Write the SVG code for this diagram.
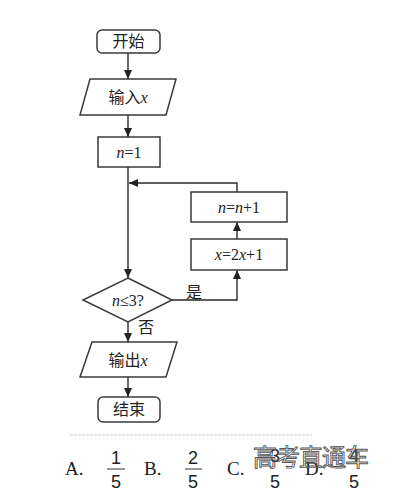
<svg xmlns="http://www.w3.org/2000/svg" width="400" height="500" viewBox="0 0 400 500">
<style>
.box{fill:#fff;stroke:#3a3a3a;stroke-width:1.5}
.ln{fill:none;stroke:#2a2a2a;stroke-width:1.4}
.cn{font-family:"Noto Sans CJK SC",sans-serif;font-size:16px;fill:#222}
.m{font-family:"Liberation Serif",serif;font-size:16px;fill:#222}
.i{font-style:italic}
.opt{font-family:"Liberation Serif",serif;font-size:19px;fill:#222}
.dg{font-family:"Liberation Sans",sans-serif;font-size:18px;fill:#222}
.wm{font-family:"Noto Sans CJK SC",sans-serif;font-size:24px;fill:none;stroke:#555;stroke-width:0.9}
</style>
<defs>
<marker id="ah" markerWidth="10" markerHeight="10" refX="9" refY="5" orient="auto" markerUnits="userSpaceOnUse">
<path d="M0,1 L9,5 L0,9 Z" fill="#222"/>
</marker>
</defs>
<rect width="400" height="500" fill="#fff"/>
<g id="connectors">
<line class="ln" x1="128" y1="53" x2="128" y2="79" marker-end="url(#ah)"/>
<line class="ln" x1="128" y1="115" x2="128" y2="137" marker-end="url(#ah)"/>
<line class="ln" x1="128" y1="167" x2="128" y2="278" marker-end="url(#ah)"/>
<polyline class="ln" points="237,192 237,183 129,183" marker-end="url(#ah)"/>
<polyline class="ln" points="172,300 237,300 237,270" marker-end="url(#ah)"/>
<line class="ln" x1="237" y1="239" x2="237" y2="222" marker-end="url(#ah)"/>
<line class="ln" x1="128" y1="322" x2="128" y2="342" marker-end="url(#ah)"/>
<line class="ln" x1="128" y1="377" x2="128" y2="397" marker-end="url(#ah)"/>
<text class="cn" x="186" y="298">是</text>
<text class="cn" x="138" y="333">否</text>
</g>
<g id="start">
<rect class="box" x="97" y="30" width="63" height="23" rx="5"/>
<text class="cn" x="128.5" y="47" text-anchor="middle">开始</text>
</g>
<g id="input">
<polygon class="box" points="90,79 176,79 166,115 80,115"/>
<text x="128" y="103" text-anchor="middle"><tspan class="cn">输入</tspan><tspan class="m i">x</tspan></text>
</g>
<g id="init">
<rect class="box" x="98" y="137" width="62" height="30"/>
<text class="m" x="129" y="158" text-anchor="middle"><tspan class="i">n</tspan>=1</text>
</g>
<g id="inc">
<rect class="box" x="191" y="192" width="96" height="30"/>
<text class="m" x="239" y="213" text-anchor="middle"><tspan class="i">n</tspan>=<tspan class="i">n</tspan>+1</text>
</g>
<g id="update">
<rect class="box" x="191" y="239" width="96" height="31"/>
<text class="m" x="239" y="260" text-anchor="middle"><tspan class="i">x</tspan>=2<tspan class="i">x</tspan>+1</text>
</g>
<g id="decision">
<polygon class="box" points="128,278 172,300 128,322 83,300"/>
<text class="m" x="128" y="306" text-anchor="middle"><tspan class="i">n</tspan>≤3?</text>
</g>
<g id="output">
<polygon class="box" points="92,342 177,342 166,377 80,377"/>
<text x="128" y="366" text-anchor="middle"><tspan class="cn">输出</tspan><tspan class="m i">x</tspan></text>
</g>
<g id="end">
<rect class="box" x="98" y="397" width="62" height="25" rx="5"/>
<text class="cn" x="129" y="415" text-anchor="middle">结束</text>
</g>
<line x1="70" y1="435" x2="312" y2="435" stroke="#ccc" stroke-width="1" stroke-dasharray="3 1"/>
<g id="options">
<text class="opt" x="65" y="475">A.</text>
<text class="dg" x="116" y="464" text-anchor="middle">1</text>
<line x1="107" y1="469" x2="125" y2="469" stroke="#333" stroke-width="1"/>
<text class="dg" x="116" y="488" text-anchor="middle">5</text>
<text class="opt" x="144" y="475">B.</text>
<text class="dg" x="193" y="464" text-anchor="middle">2</text>
<line x1="185" y1="469" x2="202" y2="469" stroke="#333" stroke-width="1"/>
<text class="dg" x="193" y="488" text-anchor="middle">5</text>
<text class="opt" x="227" y="475">C.</text>
<text class="dg" x="275" y="462" text-anchor="middle">3</text>
<text class="dg" x="275" y="488" text-anchor="middle">5</text>
<text class="opt" x="305" y="475">D.</text>
<text class="dg" x="354" y="462" text-anchor="middle">4</text>
<text class="dg" x="354" y="488" text-anchor="middle">5</text>
<text class="wm" x="253" y="466" textLength="116">高考直通车</text>
</g>
</svg>
